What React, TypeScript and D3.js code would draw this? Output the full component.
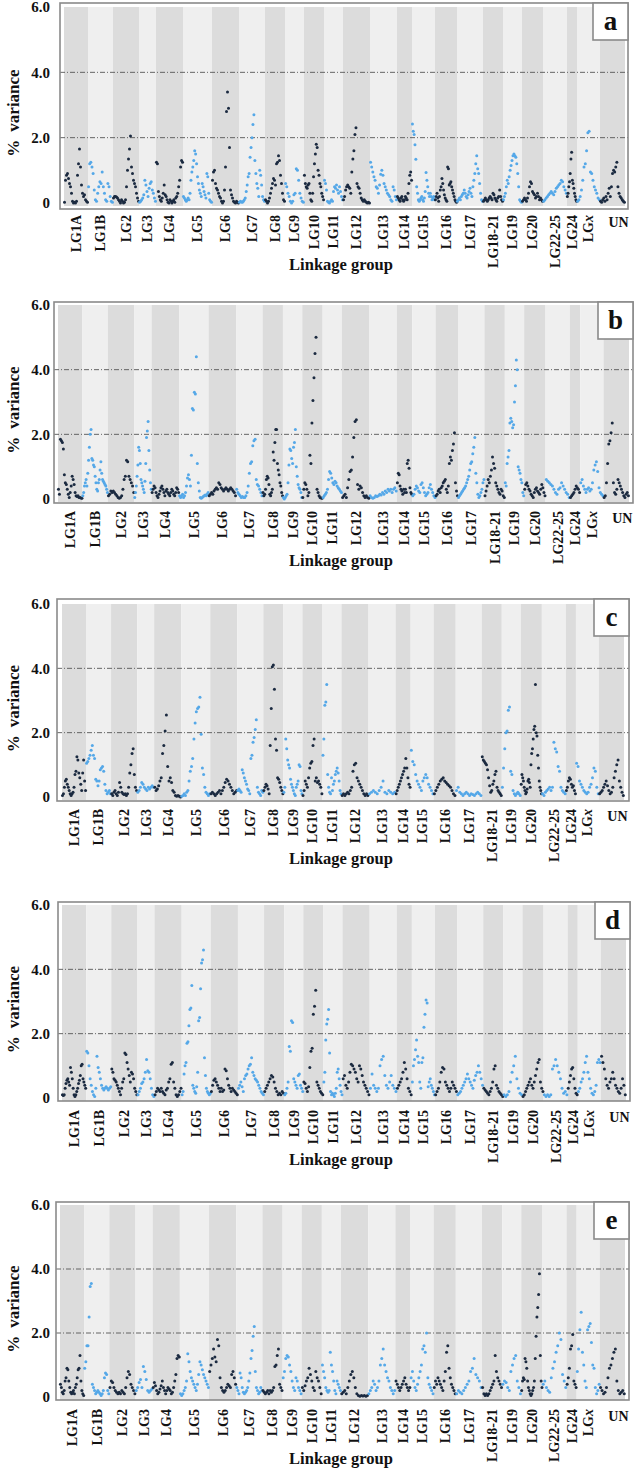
import React from "react";
import * as d3 from "d3";

const GROUPS = ["LG1A","LG1B","LG2","LG3","LG4","LG5","LG6","LG7","LG8","LG9","LG10","LG11","LG12","LG13","LG14","LG15","LG16","LG17","LG18-21","LG19","LG20","LG22-25","LG24","LGx","UN"];
const GROUP_LENGTHS = [24,25,26,17,27,29,27,26,20,19,20,19,27,27,15,23,22,26,20,19,21,24,10,23,25];
const Y_TICKS = [0, 2, 4, 6];
const Y_TICK_LABELS = ["0", "2.0", "4.0", "6.0"];
const GRID_VALUES = [2, 4];
const PANEL_LETTERS = ["a", "b", "c", "d", "e"];

const PANEL_A = [
  [0.02,0.7,0.85,0.9,0.75,0.6,0.5,0.3,0.05,0,0.02,0,0.05,0.85,1.2,1.65,1.1,0.55,0.3,0.2,0.25,0.1,0.05,0.02],
  [0.5,1.2,1.25,1.1,0.9,0.4,0.1,0.05,0.3,0.5,0.65,0.6,0.95,0.5,0.3,0.1,0.05,0.6,0.5,0.2,0.05,0.02],
  [0.15,0.2,0.2,0.18,0.15,0.1,0.05,0,0.1,0.05,0,0.02,0.1,0.5,1,1.35,1.65,2.05,1.1,0.9,0.7,0.6,0.5,0.3,0.15,0.05],
  [0.02,0.05,0.1,0.15,0.25,0.7,0.55,0.35,0.2,0.45,0.6,0.65,0.4,0.3,0.15,0.05],
  [1.25,1.2,0.35,0.2,0.1,0.05,0.15,0.3,0.55,0.25,0.2,0.1,0.02,0,0.1,0.05,0,0.05,0.1,0.02,0.15,0.2,0.3,0.5,0.7,1.1,1.3,1.25],
  [0.2,0.15,0.1,0.05,0.1,0.15,0.1,0.3,0.7,0.95,1.1,1.3,1.6,1.5,1.2,0.8,0.6,0.4,0.3,0.2,0.6,0.5,0.35,0.25,0.15,0.9,0.8,0.3,0.1,0.05,0.02],
  [0.7,0.95,1,0.6,0.45,0.4,0.3,0.2,0.15,0.05,0,0.05,0.4,1.1,2.8,3.4,2.9,1.7,0.4,0.25,0.15,0.05,0.02,0,0.05,0.02,0],
  [0.02,0.05,0.03,0.02,0.05,0.1,0.15,0.35,0.55,0.8,0.9,1.4,1.7,2,2.4,2.7,1.3,0.9,0.6,0.45,0.2,1,0.85,0.55,0.2,0.1,0.05],
  [0.1,0.05,0,0.05,0.15,0.3,0.45,0.6,0.75,0.7,0.55,1.2,1.25,1.45,1.3,0.85,0.6,0.3,0.1,0.05],
  [0.6,0.5,0.3,0.2,0.05,0,0.05,0.25,0.3,1.05,1,0.7,0.3,0.15,0.05,0.02],
  [0.85,0.6,0.5,0.45,0.55,0.6,0.3,0.1,0.05,0.3,0.8,1.2,1.5,1.8,1.7,1,0.85,0.6,0.5,0.3,0.2,0.1],
  [0.7,0.6,0.4,0.05,0.02,0,0.05,0.1,0.05,0.35,0.5,0.45,0.55,0.4,0.3,0.5,0.35,0.2,0.1],
  [0.1,0.2,0.4,0.5,0.55,0.5,0.45,0.3,0.95,1.35,1.6,2.1,2.3,0.6,0.5,0.45,0.3,0.15,0.1,0.05,0.1,0.05,0.02,0,0.02,0],
  [1.25,1.1,0.95,0.8,0.7,0.5,0.45,0.3,0.55,0.88,1,0.85,0.6,0.5,0.4,0.3,0.25,0.2,0.1,0.05,0.5,0.4,0.2,0.1],
  [0.2,0.15,0.1,0.05,0.15,0.2,0.1,0.05,0.1,0.2,0.15,0.1,0.3,0.6,0.85,0.95,0.7],
  [2.42,2.2,2.1,1.78,1.34,0.5,0.3,0.1,0.05,0.1,0.15,0.2,0.1,0.05,0.15,0.35,0.93,0.7,0.5,0.3,0.2,0.3,0.2,0.1,0.15,0.2,0.1],
  [0.1,0.2,0.3,0.15,0.05,0.2,0.4,0.5,0.75,0.6,0.4,0.25,0.15,0.1,0.05,1.1,1.05,0.55,0.6,0.65,0.5,0.4,0.3,0.2,0.1,0.05,0.02],
  [0.05,0.1,0.15,0.1,0.2,0.25,0.3,0.4,0.3,0.2,0.15,0.25,0.35,0.45,0.3,0.2,0.5,0.7,0.9,1.2,1.45,1.05,0.9,0.6,0.3,0.1,0.05],
  [0.05,0.1,0.15,0.1,0.05,0.1,0.15,0.2,0.15,0.1,0.3,0.25,0.15,0.1,0.05,0.15,0.2,0.4,0.2,0.1,0.05],
  [0.1,0.2,0.3,0.5,0.7,0.6,0.8,1,1.15,1.3,1.45,1.5,1.45,1.4,1.2,0.9,0.5,0.1,0.05,0.02],
  [0.05,0.1,0.15,0.1,0.05,0.15,0.3,0.5,0.65,0.6,0.35,0.3,0.25,0.15,0.2,0.3,0.2,0.1,0.15,0.1,0.05],
  [0.05,0.1,0.15,0.2,0.25,0.3,0.35,0.3,0.25,0.35,0.45,0.5,0.55,0.6,0.7,0.65,0.5,0.4,0.3],
  [0.2,0.3,0.5,0.65,0.9,1.35,1.55,0.7,0.6,0.45,0.3,0.2,0.1,0.05],
  [0.05,0.1,0.2,0.4,0.7,1.1,1.2,1.6,2.15,2.2,0.95,0.9,0.7,0.5,0.4,0.3,0.15,0.1],
  [0.05,0.02,0.1,0.15,0.05,0.2,0.1,0.3,0.45,0.2,0.5,0.9,1,0.95,1.1,1.25,0.5,0.3,0.2,0.15,0.1,0.05,0.02],
];

const PANEL_B = [
  [0.3,0.15,1.85,1.8,1.75,1.55,0.75,0.5,0.45,0.3,0.15,0.05,0.2,0.4,0.7,0.6,0.45,0.2,0.1,0.08,0.1,0.05,0.05,0.03,0.02],
  [0.1,0.2,0.4,0.5,0.6,0.4,0.8,1.2,1.6,2,2.15,1.25,1.2,1.05,1,0.7,0.5,0.3,0.25,0.5,0.6,0.9,1.15,0.8,0.6,0.55,0.5,0.45,0.4,0.3,0.2],
  [0.1,0.15,0.25,0.2,0.25,0.2,0.15,0.1,0.05,0.02,0.05,0.1,0.3,0.6,0.7,1.2,1.15,0.7,0.6,0.5,0.4,0.2],
  [0.05,0.2,0.4,0.7,1.05,1.6,1.5,1.1,0.6,0.5,0.4,0.3,0.2,0.55,1.1,1.9,2.1,2.4,1.5,0.9,0.5,0.3],
  [0.2,0.3,0.4,0.35,0.2,0.1,0.05,0.15,0.25,0.35,0.4,0.3,0.2,0.1,0.25,0.3,0.2,0.15,0.1,0.2,0.3,0.25,0.15,0.1,0.2,0.35,0.3,0.2],
  [0.1,0.05,0.1,0.15,0.05,0.1,0.2,0.4,0.65,0.75,0.6,0.4,1.35,2.8,2.75,3.3,3.25,4.4,1.1,0.5,0.25,0.05,0.02,0.05,0.08,0.1,0.12,0.1,0.15,0.2],
  [0.1,0.15,0.2,0.15,0.25,0.3,0.35,0.3,0.5,0.45,0.35,0.3,0.25,0.3,0.35,0.3,0.25,0.3,0.35,0.3,0.25,0.2,0.1],
  [0.3,0.2,0.15,0.1,0.05,0.08,0.05,0.05,0.1,0.2,0.4,0.8,1.1,1.15,1.65,1.8,1.85,0.6,0.45,0.4,0.3,0.2,0.1],
  [0.2,0.1,0.15,0.3,0.6,0.7,0.65,0.45,0.15,0.1,0.2,0.3,1.45,1.2,1.75,2.15,2.15,1.1,0.9,0.75,0.5,0.4,0.2,0.1],
  [0.05,0,0.05,0.1,0.15,0.5,1.05,1.55,1.5,1.25,1.1,1.6,1.75,2.15,1,0.7,0.45,0.35,0.3,0.2,0.05],
  [0.05,0.3,0.5,0.45,0.3,0.1,0.2,1.35,1.1,2.35,3.05,3.75,4.5,5,0.3,0.2,0.1,0.05,0.03,0.02],
  [0.05,0.1,0.15,0.2,0.3,0.6,0.85,0.8,0.65,0.5,0.45,0.55,0.5,0.4,0.35,0.3,0.25,0.2],
  [0.05,0.1,0.15,0.05,0.35,0.6,0.85,0.9,1.3,1.9,2.4,2.45,0.45,0.3,0.4,0.35,0.2,0.1,0.05,0.1,0.05,0.02],
  [0.1,0.05,0.02,0.05,0.1,0.08,0.1,0.15,0.12,0.2,0.15,0.25,0.2,0.3,0.25,0.3,0.2,0.3,0.35,0.25],
  [0.5,0.8,0.75,0.4,0.3,0.25,0.15,0.3,0.2,0.3,0.2,1.1,1.2,0.95,0.35,0.2,0.15],
  [0.1,0.15,0.3,0.4,0.35,0.25,0.2,0.45,0.5,0.35,0.2,0.1,0.15,0.2,0.35,0.45,0.3,0.2,0.1,0.05],
  [0.1,0.15,0.25,0.3,0.2,0.35,0.4,0.5,0.55,0.6,0.3,0.2,0.4,1.1,1.3,1.2,1.5,1.7,2.05,0.5,0.25,0.1],
  [0.05,0.1,0.15,0.2,0.25,0.3,0.35,0.4,0.5,0.6,0.7,0.9,1.1,1.15,1.4,1.6,1.9,0.8,0.5,0.15,0.05,0.1,0.2,0.3,0.5,0.6],
  [0.1,0.25,0.4,0.6,0.5,0.7,0.9,1.3,1.1,0.95,0.5,0.4,0.3,0.2,0.15,0.3,0.25,0.1,0.05],
  [0.5,0.4,1.1,1.3,1.5,2.35,2.5,2.4,2.2,2.3,3,3.5,4.3,4,1,0.9,0.8,0.6,0.5,0.2,0.1],
  [0.3,0.45,0.5,0.4,0.3,0.25,0.15,0.1,0.05,0.2,0.3,0.35,0.25,0.2,0.15,0.3,0.45,0.35,0.2,0.1],
  [0.6,0.55,0.5,0.45,0.4,0.3,0.2,0.15,0.3,0.35,0.5,0.4,0.3,0.2,0.15,0.05],
  [0.05,0.1,0.15,0.2,0.3,0.4,0.35,0.3,0.2],
  [0.5,0.6,0.4,0.3,0.2,0.3,0.35,0.25,0.3,0.5,0.9,1.05,1.15,0.85,0.35,0.2,0.15,0.1],
  [0.05,0.1,0.5,1.1,1.7,1.8,2.05,2.35,0.5,0.2,0.15,0.3,0.6,0.5,0.4,0.3,0.2,0.1,0.05,0.15,0.2,0.1],
];

const PANEL_C = [
  [0.05,0.1,0.3,0.5,0.55,0.4,0.3,0.2,0.1,0.05,0.1,0.15,0.3,0.7,0.8,1.25,1.15,0.75,0.6,0.4,0.2,0.75,1.15,0.5,0.2],
  [1.05,1.1,1.2,1.3,1.45,1.6,1.3,1.2,0.55,0.5,0.35,0.5,0.85,0.9,0.95,0.8,0.4,0.2,0.1,0.15,0.2,0.1],
  [0.1,0.05,0.15,0.2,0.1,0.05,0.15,0.45,0.3,0.15,0.1,0.08,0.1,0.05,0.1,0.3,0.75,1,1.35,1.5,0.7,0.3,0.2],
  [0.15,0.2,0.3,0.45,0.4,0.3,0.25,0.2,0.3,0.25,0.3,0.35,0.3],
  [0.3,0.2,0.25,0.35,0.5,0.6,1.35,1.6,2.05,2.55,0.95,0.5,0.6,0.45,0.2,0.15,0.05,0.02,0.05,0.02,0],
  [0.02,0.05,0.1,0.05,0.15,0.2,0.5,0.8,0.95,1.2,1.8,2.3,2.65,2.75,2.8,3.1,1.95,0.9,0.7,0.3,0.15,0.1,0.05,0.1],
  [0.1,0.15,0.1,0.05,0.1,0.15,0.2,0.1,0.2,0.3,0.45,0.55,0.5,0.4,0.3,0.2,0.1,0.15,0.2],
  [0.2,0.25,0.2,0.15,0.85,0.75,0.6,0.5,0.4,0.25,0.2,0.1,1.2,1.3,1.7,1.85,2.1,2.4,0.3,0.15,0.1,0.05,0.2,0.15],
  [0.2,0.3,0.4,0.35,0.25,0.1,1.6,2.75,4.05,4.1,3.35,1.8,1.45,0.6,0.55,0.45,0.3,0.2,0.1],
  [0.15,0.3,1.8,1.5,1.15,1,0.9,0.55,0.4,0.3,0.2,0.1,0.05,0.3,0.4,0.5,1,0.95,0.2,0.1],
  [0.05,0.2,0.5,0.4,0.3,0.6,0.9,1.05,1.1,1.6,1.8,0.5,0.6,0.45,0.5,0.4,0.3,0.1],
  [1.3,1.8,2.85,2.95,3.5,0.7,0.3,0.15,0.1,0.6,0.2,0.4,0.5,0.7,0.8,0.9,0.75,0.5,0.2,0.1],
  [0.05,0.1,0.05,0.1,0.15,0.1,0.2,0.3,0.8,1,1.05,0.6,0.5,0.4,0.3,0.2,0.1,0.05,0.1,0.05],
  [0.1,0.15,0.2,0.15,0.1,0.2,0.3,0.5,0.15,0.1,0.2,0.15,0.1,0.15],
  [0.1,0.2,0.3,0.4,0.5,0.6,0.7,0.8,0.9,1.2,0.9,0.6,0.4,0.3],
  [1.45,1.1,1,0.7,0.5,0.4,0.3,0.2,0.5,0.6,0.7,0.6,0.4,0.3,0.2,0.1],
  [0.1,0.2,0.3,0.4,0.5,0.55,0.6,0.5,0.45,0.4,0.35,0.3,0.2,0.1,0.05],
  [0.2,0.3,0.15,0.1,0.05,0.1,0.15,0.1,0.05,0.1,0.08,0.05,0.1,0.15,0.1,0.05],
  [1.25,1.15,1.1,1.05,1,0.85,0.6,0.35,0.15,0.2,0.4,0.5,0.7,0.8,0.3,0.2,0.15,0.1,0.05],
  [0.3,0.9,1.5,2,2.05,2.7,2.8,0.8,0.7,0.2,0.1,0.05,0.1,0.15,0.1,0.05],
  [0.4,0.7,0.6,0.5,0.3,0.2,0.1,0.15,0.25,0.5,0.55,0.45,0.3,1,1.35,1.5,1.8,2.1,2.2,3.5,2,1.9,1.3,0.9,0.5,0.3,0.2,0.1],
  [0.1,0.05,0.15,0.2,0.25,0.3,0.2,0.3,1.7,1.5,1.4,0.95,0.8,0.3,0.2,0.15,0.1],
  [0.2,0.3,0.5,0.6,0.55,0.4,0.3,0.35,0.2,0.1],
  [1.05,0.95,0.5,0.4,0.3,0.2,0.15,0.1,0.15,0.3,0.4,0.6,0.9,0.8,0.3,0.1],
  [0.1,0.15,0.2,0.3,0.4,0.5,0.35,0.2,0.1,0.15,0.3,0.6,0.8,1,1.15,0.5,0.3,0.15,0.05],
];

const PANEL_D = [
  [0.1,0.08,0.1,0.3,0.45,0.55,0.6,0.5,0.4,0.95,0.8,0.6,0.3,0.1,0.05,0.1,0.2,0.3,0.45,0.55,0.7,1,1.05,0.6,0.5,0.4,0.3],
  [1.45,1.4,1,0.6,0.4,0.2,0.1,0.05,0.3,1.3,0.95,0.8,0.6,0.4,0.3,0.25,0.3,0.35,0.3,0.25,0.3,0.35],
  [0.9,0.8,0.6,0.55,0.5,0.4,0.3,0.2,0.1,0.3,0.5,0.6,1.4,1.35,1.1,0.9,0.7,0.5,0.8,0.75,0.6,0.3,0.2,0.1],
  [0.1,0.2,0.3,0.45,0.5,0.6,0.8,1.2,0.85,0.8,0.6,0.3,0.1,0.05],
  [0.1,0.2,0.3,0.25,0.2,0.3,0.2,0.15,0.1,0.25,0.3,0.5,0.6,1.05,1.1,0.5,0.3,0.1,0.05,0.1,0.2,0.3],
  [0.1,0.2,0.75,1,1.1,1.7,1.75,2.25,2.75,2.8,3.5,0.4,0.3,0.2,0.15,0.35,0.8,2.4,2.5,3.4,4.2,4.3,4.6,1.25,0.7,0.3,0.2,0.15,0.1,0.15],
  [0.2,0.4,0.55,0.6,0.5,0.4,0.3,0.2,0.3,0.2,0.25,0.9,0.85,0.6,0.4,0.3,0.2,0.3,0.25,0.2,0.15,0.1],
  [0.3,0.4,0.5,0.35,0.2,0.6,0.7,0.75,0.9,1,1.05,1.25,0.8,0.7,0.6,0.55,0.5,0.4,0.3,0.2,0.15,0.1],
  [0.2,0.3,0.4,0.5,0.6,0.7,0.65,0.5,0.3,0.2,0.1,0.15,0.1,0.2,0.15],
  [0.1,0.15,0.3,0.5,1.6,1.45,2.4,2.35,0.6,0.5,0.4,0.3,0.7,0.75,0.4,0.3,0.2],
  [0.5,0.45,0.3,0.2,0.35,0.95,1.45,1.55,2.6,2.85,3.35,0.5,0.4,0.3,0.2,0.15,0.1],
  [0.5,0.8,1.8,2.3,2.45,2.75,1.4,0.2,0.1,0.15,0.1,0.05,0.15,0.3,0.8,0.9,0.6,0.4,0.2,0.1],
  [0.6,0.7,0.4,0.3,0.5,0.8,1.05,1,0.9,0.8,0.6,0.5,1,0.9,0.7,0.5,0.4,0.3,0.2,0.1],
  [0.3,0.75,0.4,0.3,0.2,0.3,1,1.2,1.3,0.7,0.4,0.3,0.5,0.7,0.4,0.3,0.2],
  [0.3,0.4,0.5,0.6,0.8,1.1,0.9,0.6,0.3,0.2,0.1],
  [0.5,1,1.2,1.5,1.8,1.3,1.1,0.5,0.3,1.1,1.25,2.2,2.6,3.05,2.95,0.35,0.5,0.6,0.4,0.3,0.2,0.1],
  [0.1,0.2,0.3,0.5,0.8,0.95,0.9,0.5,0.4,0.3,0.2,0.3,0.5,0.4,0.3,0.2],
  [0.1,0.15,0.2,0.3,0.4,0.5,0.6,0.75,0.6,0.5,0.4,0.3,0.55,0.7,0.8,1,0.8,0.6,0.4],
  [0.3,0.25,0.2,0.15,0.1,0.2,0.3,0.5,0.9,1,0.4,0.3,0.2,0.15,0.1,0.05],
  [0.1,0.05,0.1,0.2,0.5,0.8,1,1.3,0.6,0.3,0.15,0.1],
  [0.05,0.1,0.2,0.3,0.4,0.5,0.6,0.4,0.3,0.5,0.7,0.9,1.1,1.2,0.5,0.3,0.2],
  [0.1,0.05,0.1,0.05,0.1,0.9,1,1.2,1,0.8,0.6,0.3,0.15,0.2,0.1],
  [0.3,0.5,0.7,0.9,0.95,0.6,0.3,0.15,0.1],
  [0.2,0.3,0.5,0.6,0.8,1.1,1.3,0.8,0.6,0.3,0.15,0.1,0.2,0.4,1.1,1.2,1.1],
  [1.3,1.1,0.9,0.6,0.4,0.3,0.5,0.6,0.8,0.6,0.4,0.3,0.2,0.15,0.3,0.6,0.4,0.1],
];

const PANEL_E = [
  [0.4,0.3,0.15,0.1,0.2,0.5,0.6,0.9,0.85,0.5,0.3,0.15,0.1,0.15,0.2,0.1,0.3,0.4,0.6,0.85,0.9,1.3,0.5,0.2,0.1,0.05],
  [0.9,1.1,1.6,1.6,2.5,3.45,3.55,0.4,0.3,0.2,0.1,0.15,0.2,0.15,0.1,0.05,0.1,0.2,0.6,0.75,0.7,0.2,0.1],
  [0.3,0.5,0.45,0.3,0.2,0.15,0.1,0.15,0.1,0.2,0.15,0.1,0.3,0.6,0.8,0.7,0.4,0.3,0.2,0.1],
  [0.2,0.3,0.45,0.55,0.3,0.95,0.8,0.55,0.2,0.15,0.2,0.25],
  [0.3,0.45,0.35,0.2,0.1,0.15,0.25,0.35,0.5,0.3,0.2,0.1,0.2,0.3,0.25,0.2,0.1,0.15,0.3,0.5,0.7,1.2,1.3,1.25],
  [0.1,0.05,0.1,0.2,0.3,0.5,1.35,1.1,0.8,0.6,0.5,0.4,0.3,0.2,0.4,0.7,1.1,1,0.85,0.7,0.6,0.5,0.4,0.3],
  [0.8,1,1.2,1.5,1.25,1.1,1.8,1.6,0.6,0.3,0.2,0.15,0.2,0.3,0.4,0.35,0.3,0.7,0.8,0.6,0.4],
  [0.3,0.2,0.1,0.75,0.6,0.3,0.15,0.1,0.15,0.2,0.3,0.5,0.75,1.2,1.45,1.9,2.2,0.8,0.3,0.2,0.1,0.15,0.3,0.2],
  [0.2,0.15,0.1,0.15,0.2,0.1,0.2,0.15,0.2,0.3,0.95,1,1.3,1.5,0.4,0.3,0.2],
  [0.6,0.8,1.2,1.3,1.25,1,0.8,0.5,0.3,0.2,0.6,0.5,0.3,0.2,0.1],
  [0.3,0.2,0.35,0.5,0.6,0.9,0.7,0.5,0.3,0.2,0.8,0.6,0.5,0.3,0.1],
  [1,0.8,0.6,0.3,0.2,0.15,0.2,1.4,1,0.8,0.5,0.2,0.1,0.5,0.4,0.3,0.2],
  [0.1,0.15,0.2,0.1,0.3,0.5,0.7,0.8,0.6,0.3,0.1,0.05,0.02,0.05,0.03,0.05,0.02,0.05],
  [0.1,0.2,0.3,0.5,0.4,0.2,0.3,0.5,1,1.2,1.5,1,0.8,0.6,0.5,0.3,0.2,0.1,0.2],
  [0.5,0.4,0.3,0.2,0.3,0.4,0.5,0.6,0.4,0.3,0.2,0.3],
  [0.6,0.8,0.5,0.3,0.2,0.4,0.6,0.8,1,1.5,1.6,1.4,2,0.6,0.4,0.3,0.2,0.1],
  [0.3,0.5,0.4,0.6,0.5,0.4,0.3,0.2,0.5,0.8,1.4,1.6,0.9,0.6,0.4,0.3,0.2,0.1],
  [0.1,0.2,0.15,0.1,0.2,0.3,0.4,0.5,0.8,0.9,1.2,0.7,0.6,0.5,0.3],
  [0.3,0.1,0.05,0.1,0.05,0.1,0.2,0.3,0.4,0.5,1.3,0.8,0.6,0.5,0.4,0.3],
  [0.4,0.5,0.45,0.3,0.2,0.8,1,1.2,1.3,0.5,0.3,0.1],
  [0.2,0.5,0.6,0.55,1.2,1.1,0.9,0.5,0.3,0.2,0.1,0.05,0.1,0.2,0.3,0.5,1.2,1.9,2.5,2.8,3.2,3.85,1.3,0.5,0.3],
  [0.4,0.5,0.3,0.2,0.15,0.6,0.9,1.1,1.4,1.6,2,1.8,0.7,0.5,0.3],
  [0.4,0.6,0.9,1.5,1.6,1.95,0.5,0.4,0.3],
  [0.8,1.5,2.1,2.65,1.4,1,0.5,0.3,2.1,2.2,2.3,1.7,1,0.9,0.3,0.1,0.2,0.4],
  [0.3,0.2,0.1,0.15,0.3,0.6,0.9,1,1.2,1.4,1.5,0.5,0.2,0.1,0.15,0.2,0.1],
];

const PANELS_DATA = [PANEL_A, PANEL_B, PANEL_C, PANEL_D, PANEL_E];

const LAYOUT = [
  { x0: 64, x1: 625, fx0: 60, fx1: 628, yTop: 7, y0: 203, fy0: 3, fy1: 209 },
  { x0: 58, x1: 629, fx0: 54, fx1: 633, yTop: 305, y0: 499, fy0: 302, fy1: 503 },
  { x0: 62, x1: 624, fx0: 57, fx1: 629, yTop: 604, y0: 797, fy0: 599, fy1: 801 },
  { x0: 62, x1: 626, fx0: 58, fx1: 630, yTop: 905, y0: 1098, fy0: 902, fy1: 1101 },
  { x0: 60, x1: 625, fx0: 56, fx1: 629, yTop: 1205, y0: 1397, fy0: 1202, fy1: 1400 },
];

const FONT = "'Liberation Serif', 'Times New Roman', serif";
const DARK_BAND = "#dcdcdc";
const LIGHT_BAND = "#efefef";
const DARK_DOT = "#1b2a40";
const LIGHT_DOT = "#55a8e8";

function Panel({ data, letter, L }: { data: number[][]; letter: string; L: any }) {
  const total = d3.sum(GROUP_LENGTHS);
  const starts = d3.cumsum([0, ...GROUP_LENGTHS]);
  const x = d3.scaleLinear().domain([0, total]).range([L.x0, L.x1]);
  const y = d3.scaleLinear().domain([0, 6]).range([L.y0, L.yTop]);
  const midY = (L.y0 + L.yTop) / 2 + 8;

  return (
    <g>
      <rect x={L.fx0} y={L.fy0} width={L.fx1 - L.fx0} height={L.fy1 - L.fy0} fill="#ffffff" />
      {GROUPS.map((g, i) => (
        <rect
          key={"band" + i}
          x={x(starts[i])}
          y={L.yTop}
          width={x(starts[i + 1]) - x(starts[i])}
          height={L.y0 + 3 - L.yTop}
          fill={i % 2 === 0 ? DARK_BAND : LIGHT_BAND}
        />
      ))}
      {GRID_VALUES.map((v) => (
        <line
          key={"grid" + v}
          x1={L.fx0}
          x2={L.fx1}
          y1={y(v)}
          y2={y(v)}
          stroke="#555"
          strokeWidth={0.9}
          strokeDasharray="5,2,1,2"
        />
      ))}
      {data.map((vals, i) => {
        const px = d3
          .scalePoint<number>()
          .domain(d3.range(vals.length))
          .range([x(starts[i]), x(starts[i + 1])])
          .padding(0.5);
        return vals.map((v, j) => (
          <circle
            key={"pt" + i + "-" + j}
            cx={px(j)}
            cy={y(v)}
            r={1.5}
            fill={i % 2 === 0 ? DARK_DOT : LIGHT_DOT}
          />
        ));
      })}
      <rect
        x={L.fx0}
        y={L.fy0}
        width={L.fx1 - L.fx0}
        height={L.fy1 - L.fy0}
        fill="none"
        stroke="#8a8a8a"
        strokeWidth={1.6}
      />
      <rect x={L.fx1 - 35} y={L.fy0} width={35} height={37} fill="#ffffff" stroke="#8a8a8a" strokeWidth={1.6} />
      <text x={L.fx1 - 17.5} y={L.fy0 + 27} textAnchor="middle" fontFamily={FONT} fontWeight="bold" fontSize={27} fill="#111">
        {letter}
      </text>
      {Y_TICKS.map((t, k) => (
        <text
          key={"yt" + t}
          x={50}
          y={y(t)}
          dy="0.35em"
          textAnchor="end"
          fontFamily={FONT}
          fontWeight="bold"
          fontSize={15}
          fill="#111"
        >
          {Y_TICK_LABELS[k]}
        </text>
      ))}
      <text
        transform={`translate(13,${midY}) rotate(-90)`}
        dy="0.35em"
        textAnchor="middle"
        fontFamily={FONT}
        fontWeight="bold"
        fontSize={17}
        fill="#111"
      >
        <tspan>%</tspan>
        <tspan dx={8}>variance</tspan>
      </text>
      {GROUPS.map((g, i) => {
        const cx = (x(starts[i]) + x(starts[i + 1])) / 2;
        if (g === "UN") {
          return (
            <text key={"lab" + i} x={cx + 6} y={L.y0 + 24} textAnchor="middle" fontFamily={FONT} fontWeight="bold" fontSize={14} fill="#111">
              {g}
            </text>
          );
        }
        return (
          <text
            key={"lab" + i}
            transform={`translate(${cx},${L.y0 + 12}) rotate(-90)`}
            dy="0.35em"
            textAnchor="end"
            fontFamily={FONT}
            fontWeight="bold"
            fontSize={14}
            fill="#111"
          >
            {g === "LGx" ? (
              <>
                <tspan>LG</tspan>
                <tspan fontStyle="italic">x</tspan>
              </>
            ) : (
              g
            )}
          </text>
        );
      })}
      <text x={341} y={L.y0 + 67} textAnchor="middle" fontFamily={FONT} fontWeight="bold" fontSize={16.5} fill="#111">
        Linkage group
      </text>
    </g>
  );
}

export default function App() {
  return (
    <svg
      width={636}
      height={1474}
      viewBox="0 0 636 1474"
      style={{ position: "absolute", left: 0, top: 0, background: "#ffffff" }}
    >
      <rect x={0} y={0} width={636} height={1474} fill="#ffffff" />
      {PANELS_DATA.map((d, i) => (
        <Panel key={i} data={d} letter={PANEL_LETTERS[i]} L={LAYOUT[i]} />
      ))}
    </svg>
  );
}
